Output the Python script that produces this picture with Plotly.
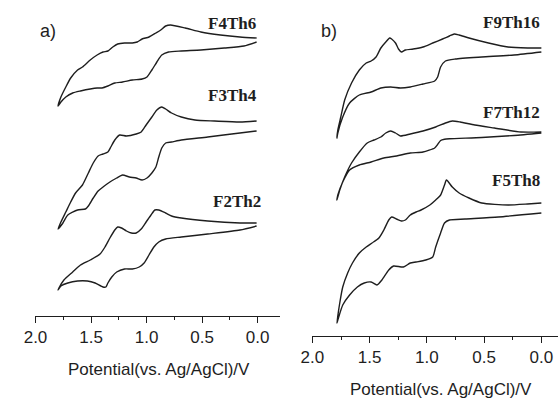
import plotly.graph_objects as go

# ---------------- data (potential in V vs Ag/AgCl, current in a.u., stacked) --------------
# Panel a) ------------------------------------------------------------------
f4th6_E = [0.009, 0.159, 0.335, 0.511, 0.652, 0.784, 0.828, 0.872, 0.916, 0.978, 1.040, 1.084,
           1.128, 1.198, 1.260, 1.304, 1.348, 1.392, 1.445, 1.507, 1.577, 1.621, 1.683, 1.727,
           1.771, 1.797,
           1.771, 1.727, 1.665, 1.595, 1.507, 1.445, 1.401, 1.348, 1.286, 1.216, 1.128, 1.040,
           0.996, 0.952, 0.907, 0.863, 0.802, 0.687, 0.511, 0.300, 0.123, 0.009]
f4th6_I = [277.5, 278.5, 280.5, 283.5, 287.5, 290.5, 289.5, 285.5, 282.5, 278.5, 276.5, 273.5,
           272.5, 272.5, 271.5, 268.5, 264.5, 263.5, 260.5, 255.5, 248.5, 245.5, 237.5, 228.5,
           218.5, 209.5,
           213.5, 218.5, 222.5, 224.5, 226.5, 227.5, 227.5, 229.5, 232.5, 233.5, 235.5, 236.5,
           238.5, 245.5, 253.5, 260.5, 263.5, 264.5, 265.5, 267.5, 269.5, 273.5]

f3th4_E = [0.009, 0.159, 0.388, 0.564, 0.687, 0.775, 0.828, 0.863, 0.907, 0.952, 1.004, 1.048,
           1.093, 1.181, 1.242, 1.286, 1.322, 1.348, 1.392, 1.436, 1.480, 1.524, 1.577, 1.639,
           1.683, 1.727, 1.771, 1.797,
           1.753, 1.709, 1.621, 1.551, 1.524, 1.480, 1.436, 1.392, 1.330, 1.269, 1.216, 1.154,
           1.093, 1.040, 0.996, 0.952, 0.916, 0.890, 0.863, 0.828, 0.775, 0.687, 0.449, 0.159,
           0.009]
f3th4_I = [194.5, 193.5, 194.5, 195.5, 198.5, 202.5, 206.5, 208.5, 205.5, 198.5, 190.5, 183.5,
           181.5, 179.5, 180.5, 175.5, 168.5, 163.5, 161.5, 159.5, 152.5, 142.5, 130.5, 122.5,
           113.5, 103.5, 93.5, 86.5,
           92.5, 100.5, 105.5, 106.5, 109.5, 117.5, 124.5, 128.5, 133.5, 137.5, 140.5, 138.5,
           137.5, 135.5, 137.5, 142.5, 148.5, 158.5, 167.5, 172.5, 173.5, 175.5, 178.5, 182.5,
           184.5]

f2th2_E = [0.009, 0.159, 0.449, 0.687, 0.775, 0.828, 0.890, 0.925, 0.960, 1.004, 1.048, 1.093,
           1.137, 1.181, 1.225, 1.260, 1.286, 1.330, 1.374, 1.419, 1.507, 1.595, 1.665, 1.744,
           1.789, 1.797,
           1.771, 1.709, 1.621, 1.533, 1.463, 1.392, 1.366, 1.348, 1.313, 1.269, 1.198, 1.128,
           1.066, 1.022, 0.978, 0.934, 0.890, 0.828, 0.687, 0.449, 0.159, 0.009]
f2th2_I = [92.5, 92.5, 94.5, 97.5, 99.5, 102.5, 105.5, 105.5, 100.5, 93.5, 86.5, 82.5,
           82.5, 84.5, 87.5, 88.5, 85.5, 77.5, 68.5, 61.5, 55.5, 50.5, 43.5, 35.5,
           27.5, 25.5,
           29.5, 32.5, 34.5, 34.5, 32.5, 28.5, 28.5, 32.5, 38.5, 43.5, 46.5, 46.5,
           48.5, 52.5, 60.5, 68.5, 73.5, 76.5, 78.5, 81.5, 85.5, 89.5]

# Panel b) ------------------------------------------------------------------
f9th16_E = [0.000, 0.120, 0.291, 0.462, 0.632, 0.718, 0.761, 0.803, 0.863, 0.949, 1.034, 1.120,
            1.188, 1.222, 1.248, 1.274, 1.308, 1.325, 1.359, 1.402, 1.444, 1.487, 1.530, 1.590,
            1.658, 1.718, 1.752, 1.778, 1.786,
            1.778, 1.735, 1.675, 1.590, 1.487, 1.402, 1.316, 1.231, 1.145, 1.034, 0.932, 0.906,
            0.880, 0.838, 0.752, 0.521, 0.239, 0.000]
f9th16_I = [287.5, 287.5, 288.5, 292.5, 297.5, 300.5, 301.5, 299.5, 296.5, 292.5, 288.5, 286.5,
            285.5, 283.5, 286.5, 292.5, 296.5, 297.5, 293.5, 287.5, 278.5, 274.5, 272.5, 265.5,
            252.5, 235.5, 218.5, 205.5, 197.5,
            202.5, 218.5, 232.5, 240.5, 243.5, 247.5, 248.5, 247.5, 248.5, 251.5, 254.5, 258.5,
            268.5, 274.5, 276.5, 278.5, 280.5, 283.5]

f7th12_E = [0.000, 0.179, 0.410, 0.581, 0.709, 0.778, 0.838, 0.923, 1.034, 1.145, 1.231, 1.274,
            1.316, 1.359, 1.402, 1.462, 1.521, 1.590, 1.658, 1.718, 1.761, 1.786,
            1.778, 1.735, 1.675, 1.590, 1.487, 1.376, 1.265, 1.145, 1.034, 0.932, 0.906, 0.880,
            0.846, 0.803, 0.521, 0.239, 0.000]
f7th12_I = [203.5, 203.5, 207.5, 210.5, 213.5, 214.5, 212.5, 208.5, 204.5, 201.5, 199.5, 202.5,
            204.5, 202.5, 198.5, 195.5, 192.5, 183.5, 172.5, 158.5, 145.5, 135.5,
            140.5, 153.5, 165.5, 170.5, 173.5, 177.5, 179.5, 182.5, 183.5, 187.5, 191.0, 195.0,
            196.3, 196.8, 198.0, 200.0, 202.5]

f5th8_E = [0.000, 0.120, 0.291, 0.521, 0.632, 0.718, 0.778, 0.829, 0.846, 0.880, 0.923, 0.974,
           1.051, 1.094, 1.145, 1.188, 1.222, 1.265, 1.308, 1.333, 1.376, 1.419, 1.479, 1.530,
           1.590, 1.650, 1.692, 1.735, 1.761, 1.786,
           1.778, 1.735, 1.675, 1.607, 1.547, 1.487, 1.436, 1.393, 1.333, 1.291, 1.205, 1.145,
           1.094, 1.009, 0.949, 0.923, 0.880, 0.846, 0.803, 0.667, 0.376, 0.000]
f5th8_I = [132.5, 131.5, 130.5, 132.5, 137.5, 142.5, 148.5, 155.5, 150.5, 140.5, 135.5, 130.5,
           125.5, 123.5, 120.5, 115.5, 114.5, 116.5, 118.5, 115.5, 105.5, 97.5, 92.5, 88.5,
           82.5, 72.5, 62.5, 48.5, 32.5, 12.5,
           15.5, 30.5, 40.5, 48.5, 52.5, 53.5, 50.5, 55.5, 65.5, 69.5, 68.5, 72.5,
           73.5, 75.5, 78.5, 88.5, 102.5, 112.5, 115.5, 116.5, 118.5, 122.5]

panel_a = [("F4Th6", f4th6_E, f4th6_I), ("F3Th4", f3th4_E, f3th4_I), ("F2Th2", f2th2_E, f2th2_I)]
panel_b = [("F9Th16", f9th16_E, f9th16_I), ("F7Th12", f7th12_E, f7th12_I), ("F5Th8", f5th8_E, f5th8_I)]

x_ticks = [2.0, 1.5, 1.0, 0.5, 0.0]
x_title = "Potential(vs. Ag/AgCl)/V"

# ---------------- figure ----------------
W, H = 558, 399
INK = "#1e1e1e"

fig = go.Figure()
for name, E, I in panel_a:
    fig.add_trace(go.Scatter(x=E, y=I, mode="lines", name=name, xaxis="x", yaxis="y",
                             line=dict(color=INK, width=1.4, shape="spline", smoothing=0.6),
                             showlegend=False, hoverinfo="skip"))
for name, E, I in panel_b:
    fig.add_trace(go.Scatter(x=E, y=I, mode="lines", name=name, xaxis="x2", yaxis="y2",
                             line=dict(color=INK, width=1.4, shape="spline", smoothing=0.6),
                             showlegend=False, hoverinfo="skip"))

def xaxis_style(domain, rng):
    return dict(domain=domain, range=rng, showline=True, linecolor=INK, linewidth=1.3,
                ticks="outside", ticklen=6, tickwidth=1.3, tickcolor=INK,
                tickvals=x_ticks, ticktext=[f"{v:.1f}" for v in x_ticks],
                minor=dict(tickvals=[1.75, 1.25, 0.75, 0.25], ticks="outside", ticklen=3,
                           tickwidth=1.2, tickcolor=INK),
                showgrid=False, zeroline=False,
                tickfont=dict(family="Liberation Sans, Arial", size=17, color=INK))

fig.update_layout(
    width=W, height=H, margin=dict(l=0, r=0, t=0, b=0),
    paper_bgcolor="white", plot_bgcolor="white",
    xaxis=xaxis_style([24 / W, 274 / W], [2.0, -0.2026]),
    xaxis2=xaxis_style([307 / W, 1.0], [2.0, -0.1453]),
    yaxis=dict(domain=[1 - 315.5 / H, 1.0], range=[0, 315.5], visible=False),
    yaxis2=dict(domain=[1 - 335.5 / H, 1.0], range=[0, 335.5], visible=False, anchor="x2"),
)
fig.layout.xaxis.anchor = "y"
fig.layout.xaxis2.anchor = "y2"

def px(xp, yp):
    return xp / W, 1 - yp / H

annots = []
# axis titles
for (cx, cy) in [(150, 369), (438, 389)]:
    ax_, ay_ = px(cx, cy)
    annots.append(dict(x=ax_, y=ay_, xref="paper", yref="paper", text=x_title, showarrow=False,
                       xanchor="center", yanchor="middle",
                       font=dict(family="Liberation Sans, Arial", size=17, color=INK)))
# panel letters
for txt, (lx, ly) in [("a)", (27, 31)), ("b)", (314, 31))]:
    ax_, ay_ = px(lx, ly)
    annots.append(dict(x=ax_, y=ay_, xref="paper", yref="paper", text=txt, showarrow=False,
                       xanchor="left", yanchor="middle",
                       font=dict(family="Liberation Sans, Arial", size=18, color=INK)))
# compound labels
label_pos = {"F4Th6": (251, 23), "F3Th4": (252, 95), "F2Th2": (257, 201),
             "F9Th16": (542, 22), "F7Th12": (542, 112), "F5Th8": (542, 180)}
for name, (rx, ry) in label_pos.items():
    ax_, ay_ = px(rx, ry)
    annots.append(dict(x=ax_, y=ay_, xref="paper", yref="paper", text=f"<b>{name}</b>",
                       showarrow=False, xanchor="right", yanchor="middle",
                       font=dict(family="Liberation Serif, Times New Roman", size=17, color=INK)))
fig.update_layout(annotations=annots)

fig.write_html("out.html")
